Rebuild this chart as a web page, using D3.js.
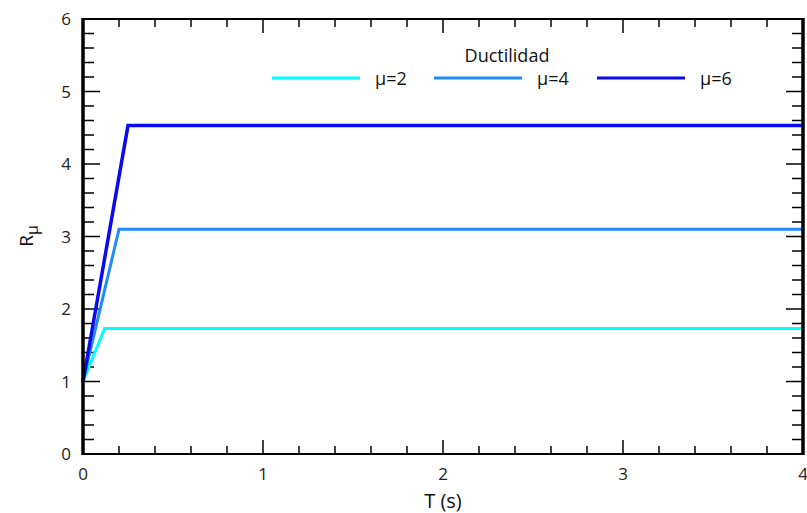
<!DOCTYPE html>
<html><head><meta charset="utf-8">
<script src="https://cdn.jsdelivr.net/npm/d3@7"></script>
<style>body{margin:0;background:#fff;} text{font-family:"Open Sans","DejaVu Sans",sans-serif;}</style>
</head><body>
<svg id="c" width="807" height="513"></svg>
<script>
const seriesNames = ["μ=2", "μ=4", "μ=6"];
const seriesColors = ["#00FFFF", "#1E8CFF", "#0A0AF0"];
const seriesT = [[0, 0.12, 4], [0, 0.2, 4], [0, 0.25, 4]];
const seriesR = [[1, 1.73, 1.73], [1, 3.1, 3.1], [1, 4.53, 4.53]];
const xTicks = [0, 1, 2, 3, 4];
const yTicks = [0, 1, 2, 3, 4, 5, 6];

const svg = d3.select("#c");
const L = 83, R = 803, T = 19, B = 454;
const x = d3.scaleLinear().domain([0, 4]).range([L, R]);
const y = d3.scaleLinear().domain([0, 6]).range([B, T]);

const minorX = d3.range(0, 4.0001, 0.2).map(v => +v.toFixed(2));
const minorY = d3.range(0, 6.0001, 0.2).map(v => +v.toFixed(2));

const g = svg.append("g");
function tickLen(v) { return Math.abs(v - Math.round(v)) < 1e-6 ? 14 : 8; }
minorX.forEach(v => {
  const len = tickLen(v);
  g.append("line").attr("x1", x(v)).attr("x2", x(v)).attr("y1", B).attr("y2", B - len).attr("stroke", "#000").attr("stroke-width", 1.5);
  g.append("line").attr("x1", x(v)).attr("x2", x(v)).attr("y1", T).attr("y2", T + len).attr("stroke", "#000").attr("stroke-width", 1.5);
});
minorY.forEach(v => {
  const len = tickLen(v) + 3;
  g.append("line").attr("x1", L).attr("x2", L + len).attr("y1", y(v)).attr("y2", y(v)).attr("stroke", "#000").attr("stroke-width", 1.5);
  g.append("line").attr("x1", R).attr("x2", R - len).attr("y1", y(v)).attr("y2", y(v)).attr("stroke", "#000").attr("stroke-width", 1.5);
});

const line = d3.line().x(d => x(d[0])).y(d => y(d[1]));
const widths = [3, 3, 3.5];
seriesNames.forEach((n, i) => {
  const pts = seriesT[i].map((t, j) => [t, seriesR[i][j]]);
  svg.append("path").attr("d", line(pts)).attr("fill", "none")
    .attr("stroke", seriesColors[i]).attr("stroke-width", widths[i]).attr("stroke-linejoin", "miter");
});

svg.append("line").attr("x1", L).attr("x2", R).attr("y1", T).attr("y2", T).attr("stroke", "#000").attr("stroke-width", 2);
svg.append("line").attr("x1", L).attr("x2", R).attr("y1", B).attr("y2", B).attr("stroke", "#000").attr("stroke-width", 2);
svg.append("line").attr("x1", L).attr("x2", L).attr("y1", T - 1).attr("y2", B + 1).attr("stroke", "#000").attr("stroke-width", 3.5);
svg.append("line").attr("x1", R).attr("x2", R).attr("y1", T - 1).attr("y2", B + 1).attr("stroke", "#000").attr("stroke-width", 3.5);

xTicks.forEach(v => {
  svg.append("text").attr("x", x(v)).attr("y", 480).attr("text-anchor", "middle")
    .attr("font-size", 17).attr("fill", "#222").text(v);
});
yTicks.forEach(v => {
  svg.append("text").attr("x", 71).attr("y", y(v) + 6).attr("text-anchor", "end")
    .attr("font-size", 17).attr("fill", "#222").text(v);
});

svg.append("text").attr("x", 443).attr("y", 508).attr("text-anchor", "middle")
  .attr("font-size", 20).attr("fill", "#111").text("T (s)");
const yt = svg.append("text").attr("transform", "translate(33,236) rotate(-90)")
  .attr("text-anchor", "middle").attr("font-size", 19).attr("fill", "#111");
yt.append("tspan").text("R");
yt.append("tspan").attr("font-size", 16).attr("dy", 5).text("μ");

svg.append("text").attr("x", 507).attr("y", 62).attr("text-anchor", "middle")
  .attr("font-size", 18).attr("fill", "#111").text("Ductilidad");
const legX = [272, 434, 597];
seriesNames.forEach((n, i) => {
  svg.append("line").attr("x1", legX[i]).attr("x2", legX[i] + 88).attr("y1", 78).attr("y2", 78)
    .attr("stroke", seriesColors[i]).attr("stroke-width", 3);
  svg.append("text").attr("x", legX[i] + 103).attr("y", 85).attr("font-size", 18)
    .attr("fill", "#111").text(n);
});
</script>
</body></html>
